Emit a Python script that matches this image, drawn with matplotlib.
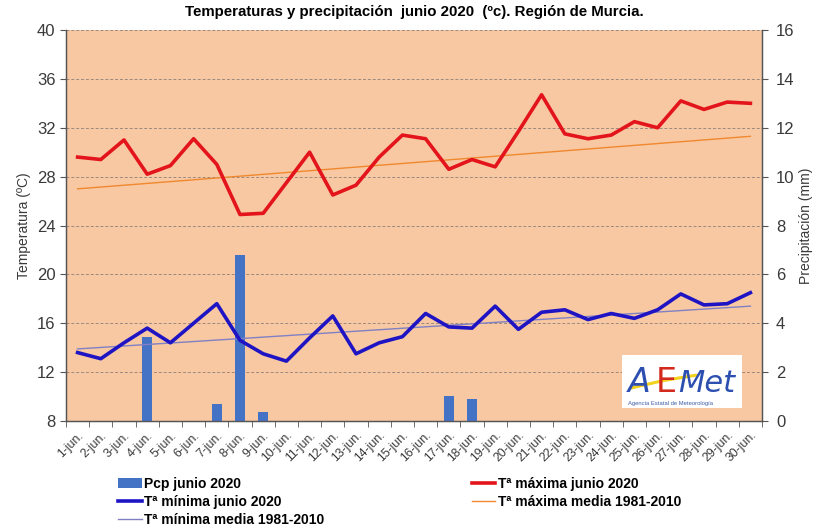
import matplotlib
matplotlib.use("Agg")
import matplotlib.pyplot as plt
import numpy as np
from matplotlib.ticker import FixedLocator, NullFormatter

plt.rcParams['font.family'] = ['Liberation Sans', 'DejaVu Sans']

# ---------------- data ----------------
days = list(range(1, 31))
day_labels = [f"{d}-jun." for d in days]

tmax = [29.6, 29.4, 31.0, 28.2, 28.9, 31.1, 29.0, 24.9, 25.0, 27.5,
        30.0, 26.5, 27.3, 29.6, 31.4, 31.1, 28.6, 29.4, 28.8, 31.7,
        34.7, 31.5, 31.1, 31.4, 32.5, 32.0, 34.2, 33.5, 34.1, 34.0]
tmin = [13.6, 13.1, 14.4, 15.6, 14.4, 16.0, 17.6, 14.6, 13.5, 12.9,
        14.8, 16.6, 13.5, 14.4, 14.9, 16.8, 15.7, 15.6, 17.4, 15.5,
        16.9, 17.1, 16.3, 16.8, 16.4, 17.1, 18.4, 17.5, 17.6, 18.5]
pcp_days = [4, 7, 8, 9, 17, 18]
pcp_vals = [3.45, 0.68, 6.8, 0.38, 1.02, 0.9]

# climatological reference lines (start / end of month)
ref_days = [1, 30]
tmax_media = [27.0, 31.3]
tmin_media = [13.9, 17.4]

temp_ticks = [8, 12, 16, 20, 24, 28, 32, 36, 40]
pcp_ticks = [0, 2, 4, 6, 8, 10, 12, 14, 16]

title = "Temperaturas y precipitación  junio 2020  (ºc). Región de Murcia."

# ---------------- figure ----------------
W, H = 820, 530
fig = plt.figure(figsize=(W / 100, H / 100), dpi=100)
fig.patch.set_facecolor("white")

L, R, T, B = 66, 762, 30, 421
ax = fig.add_axes([L / W, 1 - B / H, (R - L) / W, (B - T) / H])
ax2 = ax.twinx()

peach = "#F8C8A2"
grid_c = "#9c8a7e"
txt_c = "#3a3a3a"

# background + bars on ax2 (drawn below)
ax.set_zorder(2)
ax.patch.set_visible(False)
ax2.set_zorder(1)
ax2.patch.set_visible(True)
ax2.patch.set_facecolor(peach)

ax2.bar(pcp_days, pcp_vals, width=0.42, color="#4472C4", zorder=3,
        label="Pcp junio 2020")
ax2.set_ylim(0, 16)
ax2.set_yticks(pcp_ticks)

ax.set_xlim(0.5, 30.5)
ax.set_ylim(8, 40)
ax.set_yticks(temp_ticks)

# x ticks: labels at day centres, tick marks at boundaries
ax.xaxis.set_major_locator(FixedLocator(days))
ax.set_xticklabels(day_labels, rotation=45, ha="right", va="top",
                   rotation_mode="anchor", fontsize=8.8, color=txt_c)
ax.xaxis.set_minor_locator(FixedLocator(np.arange(0.5, 31, 1.0)))
ax.xaxis.set_minor_formatter(NullFormatter())
ax.tick_params(axis="x", which="major", length=0, pad=6)
ax.tick_params(axis="x", which="minor", length=4, direction="out",
               color="#555555")

ax.tick_params(axis="y", labelsize=12, labelcolor=txt_c, length=4,
               color="#555555")
ax2.tick_params(axis="y", labelsize=12, labelcolor=txt_c, length=4,
                color="#555555", pad=6)

# grid on the background axes
ax2.set_axisbelow(True)
ax2.grid(axis="y", color=grid_c, linestyle=(0, (3, 2)), linewidth=0.7)
ax2.xaxis.set_minor_locator(FixedLocator(np.arange(0.5, 31, 1.0)))
ax2.grid(axis="x", which="minor", color=grid_c, linestyle=(0, (3, 2)),
         linewidth=0.7)

# lines
l_max, = ax.plot(days, tmax, color="#E3141B", linewidth=2.6,
                 label="Tª máxima junio 2020", zorder=4)
l_min, = ax.plot(days, tmin, color="#1E14C4", linewidth=2.6,
                 label="Tª mínima junio 2020", zorder=4)
l_maxm, = ax.plot(ref_days, tmax_media, color="#F0882E", linewidth=1.0,
                  label="Tª máxima media 1981-2010", zorder=3)
l_minm, = ax.plot(ref_days, tmin_media, color="#8080C4", linewidth=1.0,
                  label="Tª mínima media 1981-2010", zorder=3)

for a in (ax, ax2):
    a.spines["top"].set_visible(False)
    for s in ("left", "right", "bottom"):
        a.spines[s].set_color("#555555")
        a.spines[s].set_linewidth(0.9)

ax.set_ylabel("Temperatura (ºC)", fontsize=10, color=txt_c, labelpad=4)
ax2.set_ylabel("Precipitación (mm)", fontsize=10, color=txt_c, labelpad=3)

fig.text((L + R) / 2 / W, 1 - 12 / H, title, ha="center", va="center",
         fontsize=10.8, fontweight="bold")

# legend
bars_handle = ax2.containers[0]
handles = [bars_handle, l_min, l_minm, l_max, l_maxm]
labels = [h.get_label() for h in handles]
fig.legend(handles, labels, loc="upper left",
           bbox_to_anchor=(118 / W, 1 - 477 / H), ncol=2, frameon=False,
           prop={"weight": "bold", "size": 10}, handlelength=1.7,
           handletextpad=0.2, columnspacing=10.6, labelspacing=0.3,
           borderaxespad=0, borderpad=0)

# logo
lx0, lx1, ly0, ly1 = 622, 742, 355, 408
lax = fig.add_axes([lx0 / W, 1 - ly1 / H, (lx1 - lx0) / W, (ly1 - ly0) / H])
lax.set_zorder(6)
lax.set_xlim(0, 1)
lax.set_ylim(0, 1)
lax.set_xticks([])
lax.set_yticks([])
for s in lax.spines.values():
    s.set_visible(False)
lax.patch.set_facecolor("white")
lax.plot([0.08, 0.35, 0.62], [0.38, 0.52, 0.62], color="#F2D21C",
         linewidth=2.2, solid_capstyle="round")
lax.text(0.05, 0.30, "A", color="#2C4FB0", fontsize=24, style="italic",
         family="DejaVu Sans", va="baseline")
lax.text(0.28, 0.30, "E", color="#D42A1E", fontsize=24,
         family="DejaVu Sans", va="baseline")
lax.text(0.47, 0.30, "Met", color="#2C4FB0", fontsize=22, style="italic",
         family="DejaVu Sans", va="baseline")
lax.text(0.05, 0.06, "Agencia Estatal de Meteorología", color="#3E5EA8",
         fontsize=4.2, va="baseline")

fig.savefig("out.png", dpi=100, facecolor="white")
